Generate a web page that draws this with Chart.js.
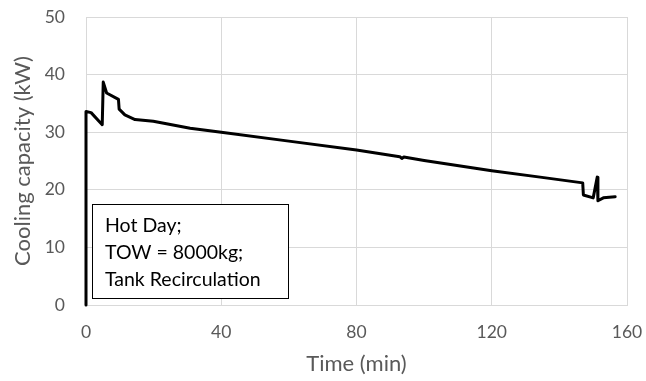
<!DOCTYPE html>
<html>
<head>
<meta charset="utf-8">
<script src="https://cdn.jsdelivr.net/npm/chart.js@4/dist/chart.umd.min.js"></script>
<style>
    html, body { margin: 0; padding: 0; background: #fff; }
    #wrap { width: 646px; height: 381px; }
</style>
</head>
<body>
<div id="wrap"><canvas id="capacityChart" width="646" height="381"></canvas></div>
<script>
// Cooling capacity over the flight, sampled at the corners of the trace
const timeMin = [0, 0, 1.5, 4.8, 5.1, 6.1, 9.6, 9.8, 11.5, 14.5, 19.9, 30.8, 40, 60, 80, 92.8, 93.4, 94, 100, 120, 134.3, 146.9, 147.1, 150.0, 151.2, 151.4, 153.0, 156.5];
const capacityKW = [0, 33.6, 33.4, 31.3, 38.7, 36.8, 35.7, 34.0, 33.0, 32.2, 31.9, 30.7, 30.0, 28.45, 26.9, 25.75, 25.45, 25.7, 25.1, 23.3, 22.2, 21.2, 19.1, 18.6, 22.2, 18.1, 18.6, 18.8];

const xTicks = [0, 40, 80, 120, 160];
const yTicks = [0, 10, 20, 30, 40, 50];

const noteLines = ['Hot Day;', 'TOW = 8000kg;', 'Tank Recirculation'];

const FONT = 'Lato, "Open Sans", sans-serif';
const GREY = '#595959';

// Boxed note in the lower-left of the plot
const noteBox = {
    id: 'noteBox',
    afterDatasetsDraw(chart) {
        const ctx = chart.ctx;
        ctx.save();
        ctx.fillStyle = '#fff';
        ctx.fillRect(92, 204, 197, 95);
        ctx.strokeStyle = '#000';
        ctx.lineWidth = 1;
        ctx.strokeRect(92.5, 204.5, 196, 94);
        ctx.fillStyle = '#000';
        ctx.font = '19.5px ' + FONT;
        ctx.textBaseline = 'middle';
        noteLines.forEach((t, i) => ctx.fillText(t, 105, 226 + i * 27));
        ctx.restore();
    }
};

// keep the plot edges fixed, ignoring label overflow
function noOverflow(s) {
    s.paddingTop = 0;
    s.paddingBottom = 0;
    s.paddingLeft = 0;
    s.paddingRight = 0;
}

new Chart(document.getElementById('capacityChart').getContext('2d'), {
    type: 'line',
    data: {
        datasets: [{
            data: timeMin.map((t, i) => ({ x: t, y: capacityKW[i] })),
            borderColor: '#000',
            borderWidth: 3,
            borderJoinStyle: 'round',
            borderCapStyle: 'round',
            pointRadius: 0,
            tension: 0,
            fill: false,
            clip: false
        }]
    },
    options: {
        responsive: false,
        animation: false,
        layout: { padding: { top: 17, right: 19, left: 0, bottom: 0 } },
        plugins: {
            legend: { display: false },
            tooltip: { enabled: false }
        },
        scales: {
            x: {
                type: 'linear',
                min: 0,
                max: 160,
                afterBuildTicks: s => { s.ticks = xTicks.map(v => ({ value: v })); },
                afterFit: s => { s.height = 76; noOverflow(s); },
                grid: { color: '#d9d9d9', drawTicks: false, lineWidth: 1 },
                border: { color: '#d9d9d9' },
                ticks: { color: GREY, font: { family: FONT, size: 17.5 }, padding: 17 },
                title: { display: true, text: 'Time (min)', color: GREY, font: { family: FONT, size: 22 }, padding: { top: 2 } }
            },
            y: {
                min: 0,
                max: 50,
                afterBuildTicks: s => { s.ticks = yTicks.map(v => ({ value: v })); },
                afterFit: s => { s.width = 86; noOverflow(s); },
                grid: { color: '#d9d9d9', drawTicks: false, lineWidth: 1 },
                border: { display: false },
                ticks: { color: GREY, font: { family: FONT, size: 17.5 }, padding: 21 },
                title: { display: true, text: 'Cooling capacity (kW)', color: GREY, font: { family: FONT, size: 22 }, padding: { top: 10, bottom: 0 } }
            }
        }
    },
    plugins: [noteBox]
});
</script>
</body>
</html>
